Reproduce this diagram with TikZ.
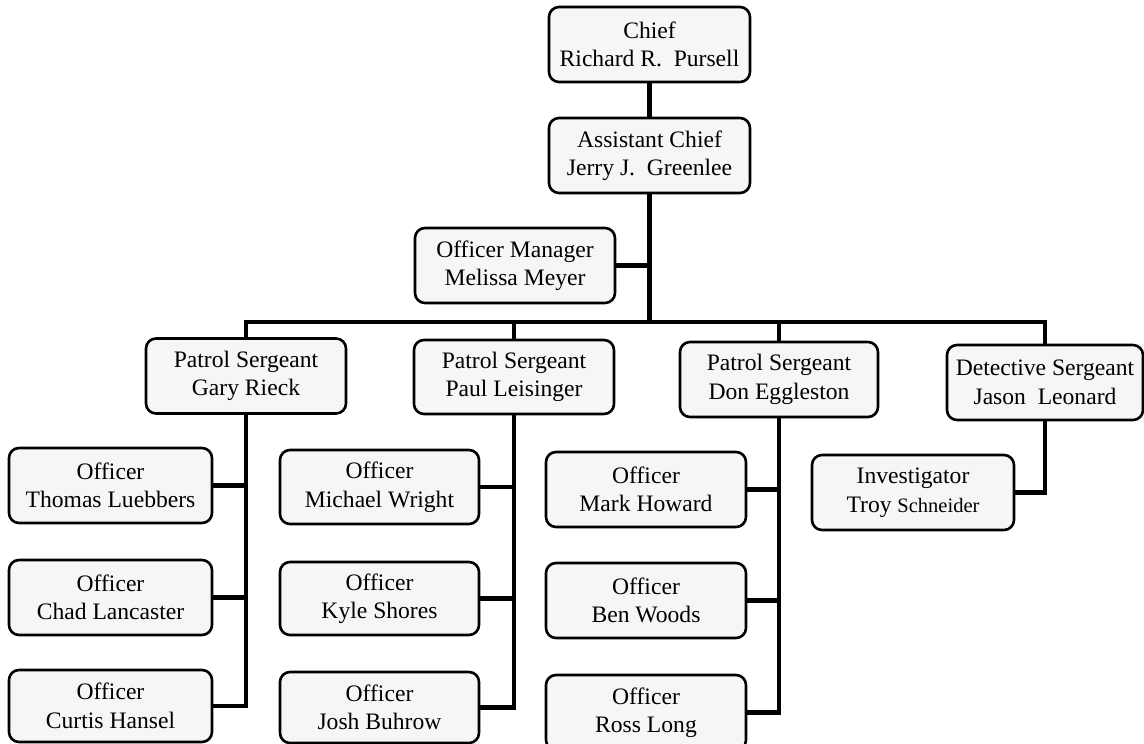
\documentclass[tikz,border=0pt]{standalone}
\usepackage{fontspec}
\setmainfont{Liberation Serif}
\begin{document}
\begin{tikzpicture}[x=1pt,y=-1pt,
  box/.style={draw=black, line width=2.6pt, rounded corners=10pt, fill=gray!7,
    minimum width=200pt, minimum height=75pt, align=center, inner sep=0pt,
    font=\fontsize{23.6}{28.5}\selectfont},
  conn/.style={draw=black, line width=4.8pt, line join=miter}]
\useasboundingbox (0,0) rectangle (1144,744);
\clip (0,0) rectangle (1144,744);
\fill[white] (0,0) rectangle (1144,744);
% nodes
\node[box, minimum width=201pt] (chief) at (649.5,44.5) {Chief\\Richard R.\ \ Pursell};
\node[box, minimum width=201pt] (asst) at (649.5,155.5) {Assistant Chief\\Jerry J.\ \ Greenlee};
\node[box] (mgr) at (515,265.5) {Officer Manager\\Melissa Meyer};
\node[box] (sgt1) at (246,376) {Patrol Sergeant\\Gary Rieck};
\node[box, minimum height=74pt] (sgt2) at (514,377) {Patrol Sergeant\\Paul Leisinger};
\node[box, minimum width=198pt] (sgt3) at (779,379.5) {Patrol Sergeant\\Don Eggleston};
\node[box, minimum width=196pt] (sgt4) at (1045,382.5) {Detective Sergeant\\Jason\ \ Leonard};
\node[box, minimum width=203pt] (o11) at (110.5,485.5) {Officer\\Thomas Luebbers};
\node[box, minimum width=203pt] (o12) at (110.5,597.5) {Officer\\Chad Lancaster};
\node[box, minimum width=203pt, minimum height=72pt] (o13) at (110.5,706) {Officer\\Curtis Hansel};
\node[box, minimum width=199pt, minimum height=74pt] (o21) at (379.5,487) {Officer\\Michael Wright};
\node[box, minimum width=199pt, minimum height=73pt] (o22) at (379.5,598.5) {Officer\\Kyle Shores};
\node[box, minimum width=199pt, minimum height=71pt] (o23) at (379.5,707.5) {Officer\\Josh Buhrow};
\node[box] (o31) at (646,489.5) {Officer\\Mark Howard};
\node[box] (o32) at (646,600.5) {Officer\\Ben Woods};
\node[box] (o33) at (646,712.5) {Officer\\Ross Long};
\node[box, minimum width=202pt] (inv) at (913,492.5) {Investigator\\Troy {\fontsize{20.5}{28.5}\selectfont Schneider}};
\coordinate (bus) at (0,322);
% connectors
\draw[conn] (chief) -- (asst);
\draw[conn] (asst) -- (asst |- bus);
\draw[conn] (mgr.east) -- (mgr.east -| asst.south);
\draw[conn] (sgt1.north) -- (sgt1.north |- bus) -- (sgt4.north |- bus) -- (sgt4.north);
\draw[conn] (sgt2.north) -- (sgt2.north |- bus);
\draw[conn] (sgt3.north) -- (sgt3.north |- bus);
% Gary Rieck
\draw[conn] (sgt1.south) -- (sgt1.south |- o13.east) -- (o13.east);
\draw[conn] (o11.east) -- (o11.east -| sgt1.south);
\draw[conn] (o12.east) -- (o12.east -| sgt1.south);
% Paul Leisinger
\draw[conn] (sgt2.south) -- (sgt2.south |- o23.east) -- (o23.east);
\draw[conn] (o21.east) -- (o21.east -| sgt2.south);
\draw[conn] (o22.east) -- (o22.east -| sgt2.south);
% Don Eggleston
\draw[conn] (sgt3.south) -- (sgt3.south |- o33.east) -- (o33.east);
\draw[conn] (o31.east) -- (o31.east -| sgt3.south);
\draw[conn] (o32.east) -- (o32.east -| sgt3.south);
% Detective
\draw[conn] (sgt4.south) -- (sgt4.south |- inv.east) -- (inv.east);
\end{tikzpicture}
\end{document}
